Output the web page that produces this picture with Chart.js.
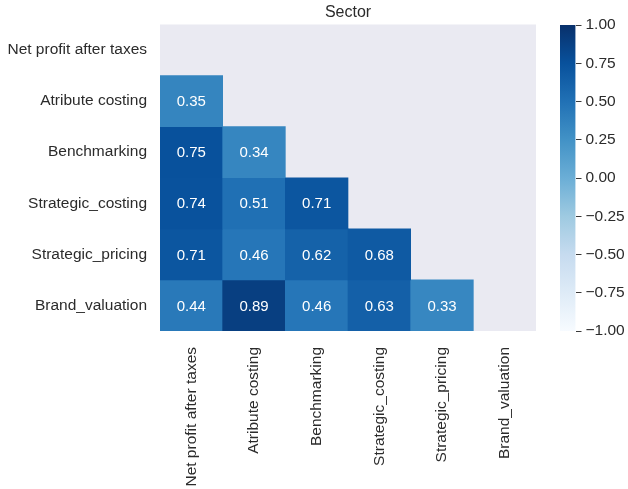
<!DOCTYPE html>
<html>
<head>
<meta charset="utf-8">
<script src="https://cdn.jsdelivr.net/npm/chart.js@4/dist/chart.umd.min.js"></script>
<style>
  html, body { margin: 0; padding: 0; background: #ffffff; }
  #wrap { position: relative; width: 628px; height: 489px; overflow: hidden; }
  #heat { position: absolute; left: 0; top: 0; }
  #cbar { position: absolute; left: 540px; top: 0; }
</style>
</head>
<body>
<div id="wrap">
  <canvas id="heat" width="550" height="489"></canvas>
  <canvas id="cbar" width="88" height="489"></canvas>
</div>
<script>
// Variables of the correlation matrix (same order on both axes)
const columns = ['Net profit after taxes', 'Atribute costing', 'Benchmarking',
                 'Strategic_costing', 'Strategic_pricing', 'Brand_valuation'];
const rowLabels = columns;

// Lower-triangle correlations, one list per row (row 0 has no cells below the diagonal)
const netProfitAfterTaxes = [];
const atributeCosting = [0.35];
const benchmarking = [0.75, 0.34];
const strategicCosting = [0.74, 0.51, 0.71];
const strategicPricing = [0.71, 0.46, 0.62, 0.68];
const brandValuation = [0.44, 0.89, 0.46, 0.63, 0.33];
const rowValues = [netProfitAfterTaxes, atributeCosting, benchmarking,
                   strategicCosting, strategicPricing, brandValuation];

// Colour scale range and colorbar ticks
const vmin = -1;
const vmax = 1;
const colorbarTicks = [-1, -0.75, -0.5, -0.25, 0, 0.25, 0.5, 0.75, 1];

// "Blues" sequential colormap
const bluesStops = ['#f7fbff', '#deebf7', '#c6dbef', '#9ecae1', '#6baed6',
                    '#4292c6', '#2171b5', '#08519c', '#08306b'];

function hexToRgb(h) {
  return [parseInt(h.slice(1, 3), 16), parseInt(h.slice(3, 5), 16), parseInt(h.slice(5, 7), 16)];
}
function blues(t) {
  t = Math.max(0, Math.min(1, t));
  const n = bluesStops.length - 1;
  const p = t * n;
  const i = Math.min(Math.floor(p), n - 1);
  const f = p - i;
  const a = hexToRgb(bluesStops[i]);
  const b = hexToRgb(bluesStops[i + 1]);
  const c = a.map((v, k) => Math.round(v + (b[k] - v) * f));
  return `rgb(${c[0]},${c[1]},${c[2]})`;
}
function colorFor(v) {
  return blues((v - vmin) / (vmax - vmin));
}

const FONT = "'Liberation Sans', Arial, Helvetica, sans-serif";
const TEXT = '#2b2b2b';
const TICK_SIZE = 15.5;

// One floating-bar dataset per row; each cell spans [row - 0.5, row + 0.5]
const datasets = rowValues.map((vals, i) => ({
  label: rowLabels[i],
  data: columns.map((_, j) => (j < vals.length ? [i - 0.5, i + 0.5] : null)),
  backgroundColor: columns.map((_, j) => (j < vals.length ? colorFor(vals[j]) : 'rgba(0,0,0,0)')),
  borderWidth: 0,
  barPercentage: 1,
  categoryPercentage: 1,
  grouped: false
}));

// Lavender plot background behind the cells
const plotBackground = {
  id: 'plotBackground',
  beforeDatasetsDraw(chart) {
    const { ctx, chartArea: a } = chart;
    ctx.save();
    ctx.fillStyle = '#eaeaf2';
    ctx.fillRect(a.left, a.top, a.right - a.left, a.bottom - a.top);
    ctx.restore();
  }
};

// Value labels in the middle of each cell
const cellLabels = {
  id: 'cellLabels',
  afterDatasetsDraw(chart) {
    const { ctx } = chart;
    ctx.save();
    ctx.font = `15px ${FONT}`;
    ctx.fillStyle = '#ffffff';
    ctx.textAlign = 'center';
    ctx.textBaseline = 'middle';
    rowValues.forEach((vals, i) => {
      const meta = chart.getDatasetMeta(i);
      vals.forEach((v, j) => {
        const el = meta.data[j];
        if (!el) return;
        const p = el.getCenterPoint();
        ctx.fillText(v.toFixed(2), p.x, p.y + 1);
      });
    });
    ctx.restore();
  }
};

new Chart(document.getElementById('heat'), {
  type: 'bar',
  data: { labels: columns, datasets },
  plugins: [plotBackground, cellLabels],
  options: {
    responsive: false,
    animation: false,
    devicePixelRatio: 1,
    layout: { padding: { left: 0, right: 14, top: 0, bottom: 0 } },
    plugins: { legend: { display: false }, tooltip: { enabled: false }, title: { display: false } },
    scales: {
      x: {
        type: 'category',
        position: 'bottom',
        offset: true,
        grid: { display: false, drawTicks: false },
        border: { display: false },
        ticks: {
          autoSkip: false,
          minRotation: 90,
          maxRotation: 90,
          padding: 16,
          color: TEXT,
          font: { family: FONT, size: TICK_SIZE }
        },
        afterFit(s) { s.height = 158; }
      },
      xTop: {
        type: 'category',
        position: 'top',
        offset: true,
        grid: { display: false, drawTicks: false },
        border: { display: false },
        ticks: { display: false },
        title: {
          display: true,
          text: 'Sector',
          color: TEXT,
          font: { family: FONT, size: 16 },
          padding: { top: 3, bottom: 2 }
        },
        afterFit(s) { s.height = 24.5; }
      },
      y: {
        type: 'linear',
        min: -0.5,
        max: 5.5,
        reverse: true,
        grid: { display: false, drawTicks: false },
        border: { display: false },
        afterBuildTicks(s) { s.ticks = rowLabels.map((_, i) => ({ value: i })); },
        ticks: {
          padding: 13,
          color: TEXT,
          font: { family: FONT, size: TICK_SIZE },
          callback: (v) => rowLabels[v] ?? ''
        },
        afterFit(s) { s.width = 160; }
      }
    }
  }
});

// Colorbar: a single floating bar from vmin to vmax filled with the colormap
new Chart(document.getElementById('cbar'), {
  type: 'bar',
  data: {
    labels: [''],
    datasets: [{
      data: [[vmin, vmax]],
      borderWidth: 0,
      barPercentage: 1,
      categoryPercentage: 1,
      backgroundColor(context) {
        const { chart } = context;
        const a = chart.chartArea;
        if (!a) return null;
        const g = chart.ctx.createLinearGradient(0, a.bottom, 0, a.top);
        bluesStops.forEach((c, k) => g.addColorStop(k / (bluesStops.length - 1), c));
        return g;
      }
    }]
  },
  options: {
    responsive: false,
    animation: false,
    devicePixelRatio: 1,
    layout: { padding: { left: 20, right: 0, top: 25, bottom: 158 } },
    plugins: { legend: { display: false }, tooltip: { enabled: false } },
    scales: {
      x: { display: false, offset: true },
      y: {
        type: 'linear',
        position: 'right',
        min: vmin,
        max: vmax,
        border: { display: false },
        grid: { display: true, drawOnChartArea: false, drawTicks: true, tickLength: 6, color: '#3a3a3a', tickWidth: 1 },
        afterBuildTicks(s) { s.ticks = colorbarTicks.map((v) => ({ value: v })); },
        ticks: {
          padding: 4,
          color: TEXT,
          font: { family: FONT, size: TICK_SIZE },
          callback: (v) => (v < 0 ? '\u2212' + Math.abs(v).toFixed(2) : v.toFixed(2))
        },
        afterFit(s) { s.width = 52.5; }
      }
    }
  }
});
</script>
</body>
</html>
